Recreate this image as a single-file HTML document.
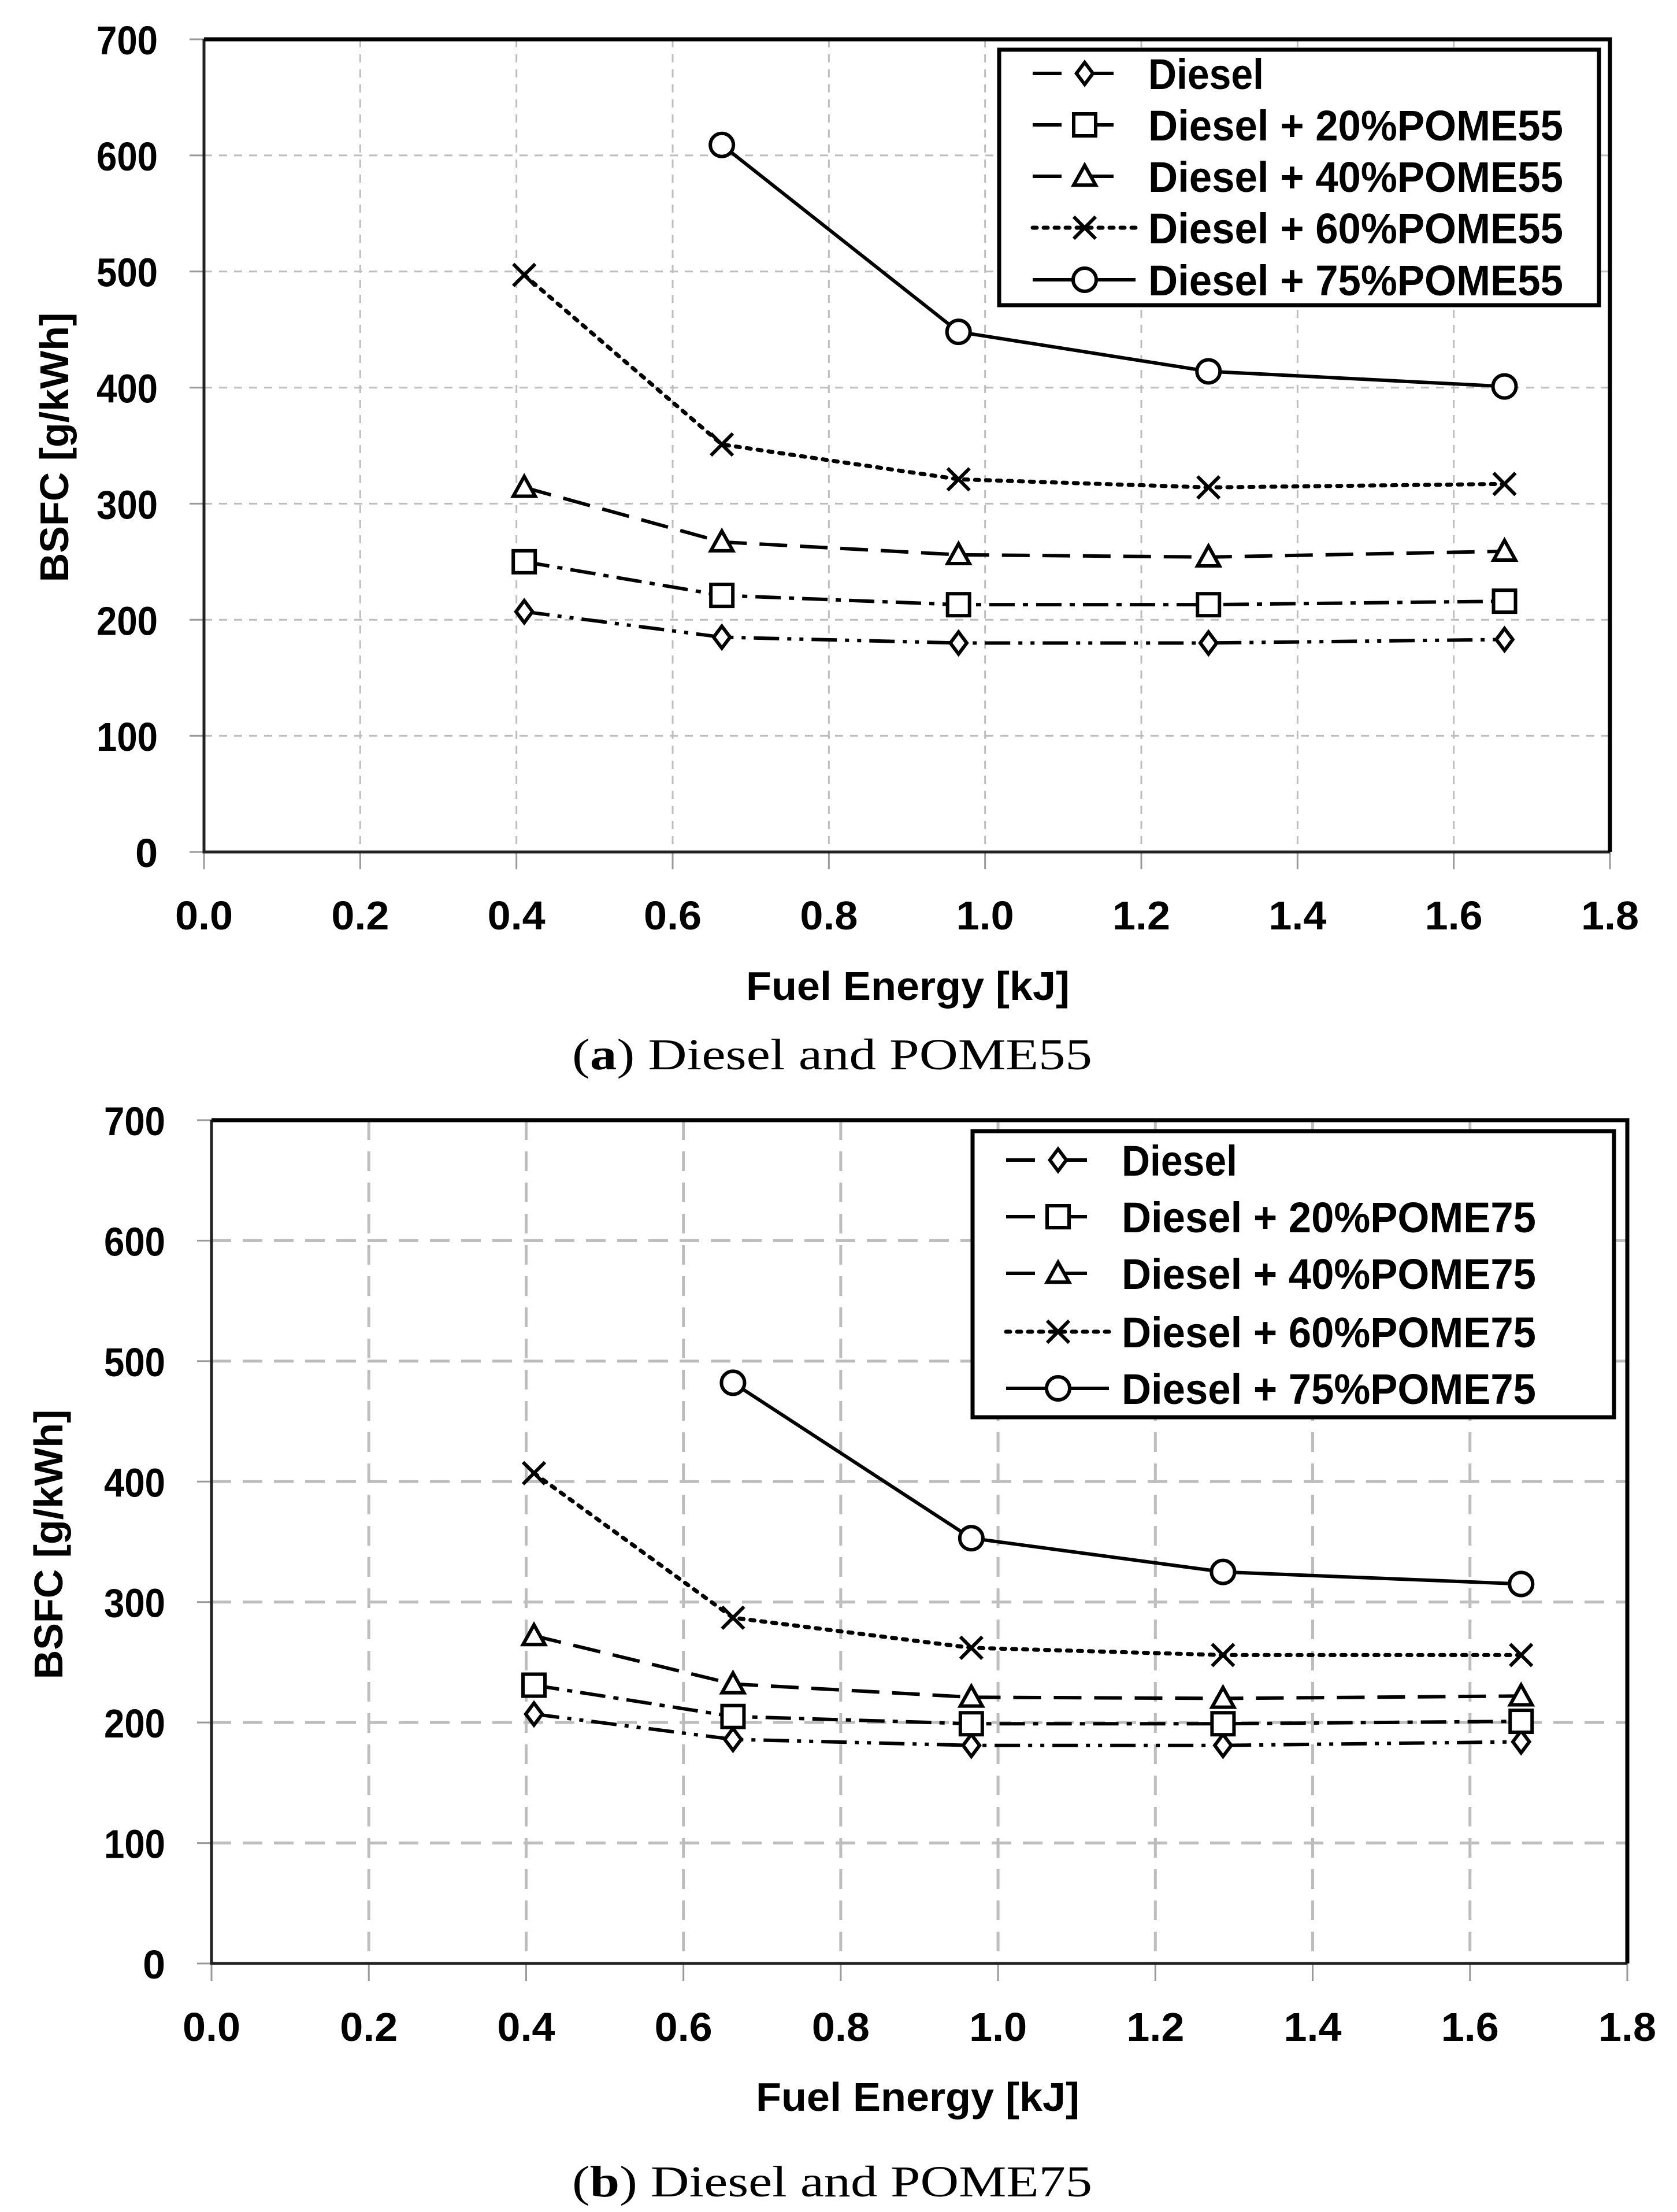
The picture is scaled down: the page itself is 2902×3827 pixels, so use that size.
<!DOCTYPE html>
<html><head><meta charset="utf-8"><style>
html,body{margin:0;padding:0;background:#fff}
svg{display:block}
.tk{font-family:"Liberation Sans Narrow","Liberation Sans",sans-serif;font-weight:bold;font-size:70px;fill:#000}
.lg{font-family:"Liberation Sans Narrow","Liberation Sans",sans-serif;font-weight:bold;font-size:74px;fill:#000}
.cap{font-family:"Liberation Serif",serif;font-size:76px;fill:#000}
</style></head><body>
<svg id="root" width="2902" height="3827" viewBox="0 0 2902 3827" xmlns="http://www.w3.org/2000/svg"></svg>
<script>
const xValues = [0.41, 0.663, 0.966, 1.286, 1.665];
const xTicks = ["0.0","0.2","0.4","0.6","0.8","1.0","1.2","1.4","1.6","1.8"];
const yTicks = ["0","100","200","300","400","500","600","700"];
const seriesNamesA = ["Diesel","Diesel + 20%POME55","Diesel + 40%POME55","Diesel + 60%POME55","Diesel + 75%POME55"];
const seriesNamesB = ["Diesel","Diesel + 20%POME75","Diesel + 40%POME75","Diesel + 60%POME75","Diesel + 75%POME75"];
const a_diesel = [207,185,180,180,183];
const a_p20 = [250,221,213,213,216];
const a_p40 = [314,267,256,254,259];
const a_p60 = [497,351,321,314,317];
const a_p75 = [null,609,448,414,401];
const b_diesel = [207,186,181,181,184];
const b_p20 = [231,205,199,199,201];
const b_p40 = [272,232,221,220,222];
const b_p60 = [407,287,262,256,256];
const b_p75 = [null,482,353,325,315];

const NS="http://www.w3.org/2000/svg";
const root=document.getElementById('root');
function mk(tag,attrs,parent){const e=document.createElementNS(NS,tag);for(const k in attrs)e.setAttribute(k,attrs[k]);(parent||root).appendChild(e);return e;}

const dashes=["44,14,7,14,7,14","44,14,9,14","48,22","7,12",""];
const markers=["diamond","square","triangle","cross","circle"];

function marker(g,type,x,y){
  const s=19;let e;
  if(type==="diamond"){e=mk('polygon',{points:`${x},${y-s} ${x+s*0.75},${y} ${x},${y+s} ${x-s*0.75},${y}`,fill:'#fff',stroke:'#000','stroke-width':6},g);}
  else if(type==="square"){e=mk('rect',{x:x-s,y:y-s,width:2*s,height:2*s,fill:'#fff',stroke:'#000','stroke-width':6},g);}
  else if(type==="triangle"){e=mk('polygon',{points:`${x},${y-s} ${x+s},${y+s*0.8} ${x-s},${y+s*0.8}`,fill:'#fff',stroke:'#000','stroke-width':6},g);}
  else if(type==="cross"){e=mk('path',{d:`M${x-s},${y-s}L${x+s},${y+s}M${x+s},${y-s}L${x-s},${y+s}`,stroke:'#000','stroke-width':6,fill:'none'},g);}
  else {e=mk('circle',{cx:x,cy:y,r:s+1,fill:'#fff',stroke:'#000','stroke-width':6},g);}
  
  
}

function chart(cfg){
  const g=mk('g',{});
  
  
  const X=v=>cfg.x0+(v/1.8)*(cfg.x1-cfg.x0);
  const Y=v=>cfg.y0-(v/700)*(cfg.y0-cfg.y1);
  const grid=mk('g',{},g);
  
  
  xTicks.forEach(t=>{const x=X(parseFloat(t));
    if(parseFloat(t)>0&&parseFloat(t)<1.8){const l=mk('line',{x1:x,y1:cfg.y1,x2:x,y2:cfg.y0,stroke:'#bdbdbd','stroke-width':cfg.gw,'stroke-dasharray':cfg.gd},grid);
      }
    const tk=mk('line',{x1:x,y1:cfg.y0,x2:x,y2:cfg.y0+30,stroke:'#999','stroke-width':3},g);
    
    const tx=mk('text',{x:x,y:cfg.y0+134,'text-anchor':'middle',class:'tk',textLength:100,lengthAdjust:'spacingAndGlyphs'},g);tx.textContent=t;
    
  });
  yTicks.forEach(t=>{const y=Y(parseFloat(t));
    if(+t>0&&+t<700){const l=mk('line',{x1:cfg.x0,y1:y,x2:cfg.x1,y2:y,stroke:'#bdbdbd','stroke-width':cfg.gw,'stroke-dasharray':cfg.gd},grid);
      }
    const tk=mk('line',{x1:cfg.x0-25,y1:y,x2:cfg.x0,y2:y,stroke:'#999','stroke-width':3},g);
    
    const tx=mk('text',{x:cfg.x0-80,y:y+26,'text-anchor':'end',class:'tk'},g);tx.textContent=t;
    if(t.length===3){tx.setAttribute('textLength',106);tx.setAttribute('lengthAdjust','spacingAndGlyphs');}
    
  });
  const ax=mk('path',{d:`M${cfg.x0},${cfg.y1}L${cfg.x0},${cfg.y0}L${cfg.x1},${cfg.y0}`,stroke:'#222',fill:'none','stroke-width':5},g);
  
  const bd=mk('path',{d:`M${cfg.x0},${cfg.y1}L${cfg.x1},${cfg.y1}L${cfg.x1},${cfg.y0}`,stroke:'#000',fill:'none','stroke-width':7},g);
  
  cfg.series.forEach((arr,i)=>{
    const sg=mk('g',{},g);
    
    
    let d="";arr.forEach((v,j)=>{if(v==null)return;d+=(d?"L":"M")+X(xValues[j])+","+Y(v);});
    const p=mk('path',{d:d,fill:'none',stroke:'#000','stroke-width':i===3?7:6,'stroke-dasharray':dashes[i],'stroke-linecap':i===3?'round':'butt'},sg);
    
    arr.forEach((v,j)=>{if(v==null)return;marker(sg,markers[i],X(xValues[j]),Y(v));});
  });
  const L=cfg.leg;
  const lg=mk('g',{},g);
  
  mk('rect',{x:L.x,y:L.y,width:L.w,height:L.h,fill:'#fff',stroke:'#000','stroke-width':7},lg);
  cfg.names.forEach((n,i)=>{
    const cy=L.y+L.rows[i];
    const e=mk('g',{},lg);
    
    const sx=L.x+58, ex=L.x+236, mx=L.x+148;
    mk('line',{x1:sx,y1:cy,x2:ex,y2:cy,stroke:'#000','stroke-width':i===3?7:6,'stroke-dasharray':i===4?'':(i===3?'7,12':'50,40'),'stroke-linecap':i===3?'round':'butt'},e);
    marker(e,markers[i],mx,cy);
    const t=mk('text',{x:L.x+258,y:cy+27,class:'lg'},e);t.textContent=n;
    t.setAttribute('textLength',i>0?L.tl:200);t.setAttribute('lengthAdjust','spacingAndGlyphs');
  });
  const xt=mk('text',{x:cfg.xtx,y:cfg.xty,'text-anchor':'middle',class:'tk',textLength:560,lengthAdjust:'spacingAndGlyphs'},g);xt.textContent="Fuel Energy [kJ]";
  
  const yt=mk('text',{x:0,y:0,'text-anchor':'middle',class:'tk',transform:`translate(${cfg.ytx},${cfg.yty}) rotate(-90)`},g);yt.textContent="BSFC [g/kWh]";
  
  const c=mk('text',{x:1440,y:cfg.capy,'text-anchor':'middle',class:'cap',textLength:900,lengthAdjust:'spacingAndGlyphs'},g);
  const b1=document.createElementNS(NS,'tspan');b1.textContent="(";c.appendChild(b1);
  const b2=document.createElementNS(NS,'tspan');b2.setAttribute('font-weight','bold');b2.textContent=cfg.letter;c.appendChild(b2);
  const b3=document.createElementNS(NS,'tspan');b3.textContent=") "+cfg.capText;c.appendChild(b3);
  
}

chart({name:'chart-a',x0:353,x1:2786,y0:1474,y1:68,gw:3,gd:'14,12',
  series:[a_diesel,a_p20,a_p40,a_p60,a_p75],names:seriesNamesA,
  leg:{x:1729,y:86,w:1038,h:442,rows:[41,130,219,308,398],tl:718},
  xtx:1571,xty:1730,ytx:118,yty:774,capy:1850,letter:'a',capText:'Diesel and POME55'});
chart({name:'chart-b',x0:366,x1:2816,y0:3397,y1:1938,gw:5,gd:'34,20',
  series:[b_diesel,b_p20,b_p40,b_p60,b_p75],names:seriesNamesB,
  leg:{x:1683,y:1957,w:1110,h:495,rows:[50,148,246,347,445],tl:717},
  xtx:1588,xty:3652,ytx:108,yty:2672,capy:3800,letter:'b',capText:'Diesel and POME75'});
</script>
</body></html>
